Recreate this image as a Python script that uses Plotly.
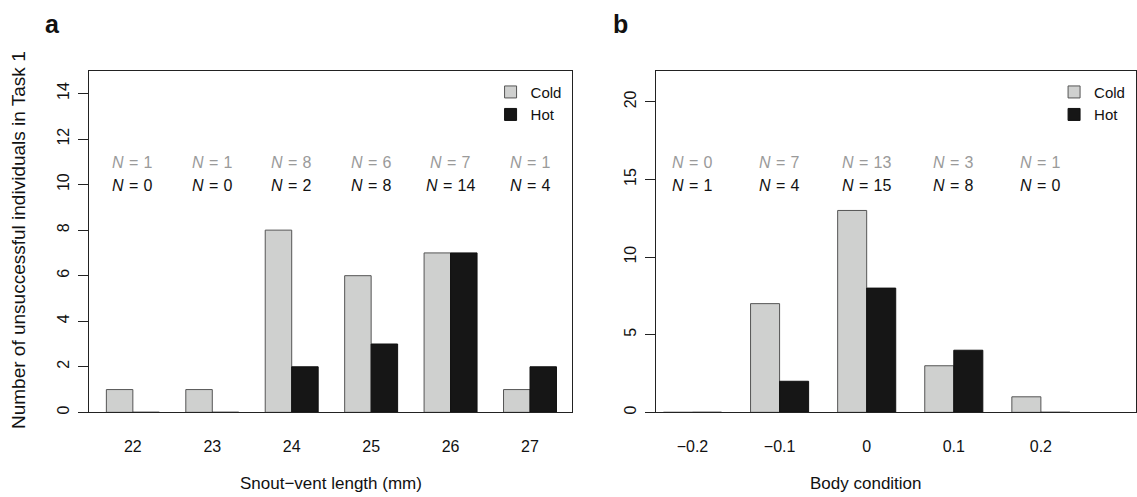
import plotly.graph_objects as go

# ---- data ----
svl_labels = ["22", "23", "24", "25", "26", "27"]
svl_cold = [1, 1, 8, 6, 7, 1]
svl_hot = [0, 0, 2, 3, 7, 2]
svl_n_cold = [1, 1, 8, 6, 7, 1]
svl_n_hot = [0, 0, 2, 8, 14, 4]

bc_labels = ["\u22120.2", "\u22120.1", "0", "0.1", "0.2"]
bc_cold = [0, 7, 13, 3, 1]
bc_hot = [0, 2, 8, 4, 0]
bc_n_cold = [0, 7, 13, 3, 1]
bc_n_hot = [1, 4, 15, 8, 0]

left_ticks = [0, 2, 4, 6, 8, 10, 12, 14]
right_ticks = [0, 5, 10, 15, 20]

W, H = 1137, 497
FONT = "Liberation Sans, Arial, Helvetica, sans-serif"
COLD_FILL = "#cfd0cf"
COLD_LINE = "#555555"
HOT_FILL = "#161616"
HOT_LINE = "#111111"
NGRAY = "#9a9a9a"
AXC = "#222222"

def px_x(p):
    return p / W

def px_y(p):
    return 1 - p / H

fig = go.Figure()

xl = list(range(len(svl_labels)))
xr = list(range(len(bc_labels)))

fig.add_trace(go.Bar(x=xl, y=svl_cold, name="Cold", marker=dict(color=COLD_FILL, line=dict(color=COLD_LINE, width=1)),
                     xaxis="x", yaxis="y", legend="legend", offsetgroup="c"))
fig.add_trace(go.Bar(x=xl, y=svl_hot, name="Hot", marker=dict(color=HOT_FILL, line=dict(color=HOT_LINE, width=1)),
                     xaxis="x", yaxis="y", legend="legend", offsetgroup="h"))
fig.add_trace(go.Bar(x=xr, y=bc_cold, name="Cold", marker=dict(color=COLD_FILL, line=dict(color=COLD_LINE, width=1)),
                     xaxis="x2", yaxis="y2", legend="legend2", offsetgroup="c"))
fig.add_trace(go.Bar(x=xr, y=bc_hot, name="Hot", marker=dict(color=HOT_FILL, line=dict(color=HOT_LINE, width=1)),
                     xaxis="x2", yaxis="y2", legend="legend2", offsetgroup="h"))

ydom = [px_y(414), px_y(71)]
axis_common = dict(showline=True, linecolor=AXC, linewidth=1, mirror=True, showgrid=False, zeroline=False,
                   tickfont=dict(family=FONT, size=16, color="#111"))

fig.update_layout(
    width=W, height=H, margin=dict(l=0, r=0, t=0, b=0),
    paper_bgcolor="white", plot_bgcolor="white",
    barmode="group", bargap=1/3, bargroupgap=0,
    font=dict(family=FONT, size=16, color="#111"),
    xaxis=dict(domain=[px_x(89), px_x(573)], range=[-0.553, 5.535], tickvals=xl, ticktext=svl_labels,
               ticks="", ticklabelstandoff=19, anchor="y", **axis_common),
    yaxis=dict(domain=ydom, range=[0, 15], tickvals=left_ticks, ticks="outside", ticklen=10, tickcolor=AXC,
               tickangle=-90, ticklabelstandoff=3, anchor="x", **axis_common),
    xaxis2=dict(domain=[px_x(657), 1.0], range=[-0.414, 5.092], tickvals=xr, ticktext=bc_labels,
                ticks="", ticklabelstandoff=19, anchor="y2", **axis_common),
    yaxis2=dict(domain=ydom, range=[0, 22], tickvals=right_ticks, ticks="outside", ticklen=10, tickcolor=AXC,
                tickangle=-90, ticklabelstandoff=3, anchor="x2", **axis_common),
    legend=dict(x=px_x(491), y=px_y(76), xanchor="left", yanchor="top", bgcolor="rgba(0,0,0,0)",
                font=dict(family=FONT, size=15, color="#111"), tracegroupgap=0),
    legend2=dict(x=px_x(1055), y=px_y(76), xanchor="left", yanchor="top", bgcolor="rgba(0,0,0,0)",
                 font=dict(family=FONT, size=15, color="#111"), tracegroupgap=0),
)

def ntext(v):
    return f"<i>N</i>\u2004=\u2004{v}"

ann = []
for i, (nc, nh) in enumerate(zip(svl_n_cold, svl_n_hot)):
    ann.append(dict(x=i, y=px_y(163), xref="x", yref="paper", text=ntext(nc), showarrow=False,
                    font=dict(family=FONT, size=16, color=NGRAY), xanchor="center", yanchor="middle"))
    ann.append(dict(x=i, y=px_y(186), xref="x", yref="paper", text=ntext(nh), showarrow=False,
                    font=dict(family=FONT, size=16, color="#111"), xanchor="center", yanchor="middle"))
for i, (nc, nh) in enumerate(zip(bc_n_cold, bc_n_hot)):
    ann.append(dict(x=i, y=px_y(163), xref="x2", yref="paper", text=ntext(nc), showarrow=False,
                    font=dict(family=FONT, size=16, color=NGRAY), xanchor="center", yanchor="middle"))
    ann.append(dict(x=i, y=px_y(186), xref="x2", yref="paper", text=ntext(nh), showarrow=False,
                    font=dict(family=FONT, size=16, color="#111"), xanchor="center", yanchor="middle"))

ann.append(dict(x=px_x(331), y=px_y(485), xref="paper", yref="paper", text="Snout\u2212vent length (mm)",
                showarrow=False, font=dict(family=FONT, size=17, color="#111"), xanchor="center", yanchor="middle"))
ann.append(dict(x=px_x(867), y=px_y(485), xref="paper", yref="paper", text="Body condition",
                showarrow=False, font=dict(family=FONT, size=17, color="#111"), xanchor="center", yanchor="middle"))
ann.append(dict(x=px_x(18), y=px_y(241), xref="paper", yref="paper", text="Number of unsuccessful individuals in Task 1",
                showarrow=False, textangle=-90, font=dict(family=FONT, size=19, color="#111"),
                xanchor="center", yanchor="middle"))
ann.append(dict(x=px_x(53), y=px_y(24), xref="paper", yref="paper", text="<b>a</b>",
                showarrow=False, font=dict(family=FONT, size=25, color="#111"), xanchor="center", yanchor="middle"))
ann.append(dict(x=px_x(621), y=px_y(24), xref="paper", yref="paper", text="<b>b</b>",
                showarrow=False, font=dict(family=FONT, size=25, color="#111"), xanchor="center", yanchor="middle"))

fig.update_layout(annotations=ann)
fig.write_html("out.html")
